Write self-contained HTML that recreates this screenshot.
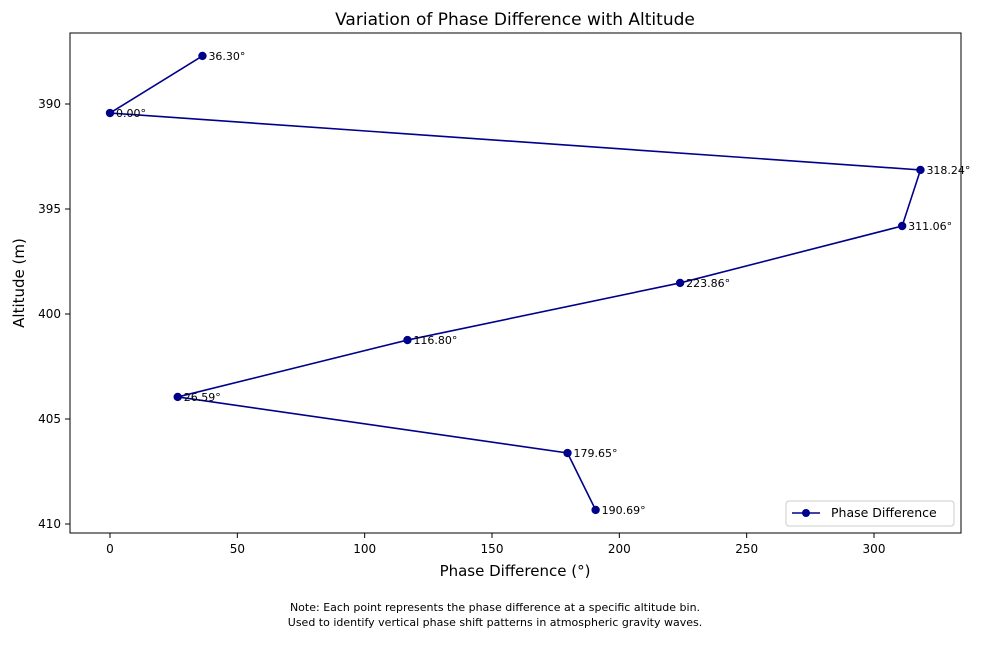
<!DOCTYPE html>
<html><head><meta charset="utf-8"><style>
body{margin:0;background:#fff;font-family:"Liberation Sans","DejaVu Sans",sans-serif;}
svg text{font-family:"DejaVu Sans","Liberation Sans",sans-serif;}
</style></head><body>
<svg id="chart" width="985" height="640" xmlns="http://www.w3.org/2000/svg">
<rect width="985" height="640" fill="#fff"/>
<text x="515" y="25" font-size="17" text-anchor="middle">Variation of Phase Difference with Altitude</text>
<g id="xticks"></g>
<g id="yticks"></g>
<g id="series"></g>
<rect x="70" y="33" width="891" height="500" fill="none" stroke="#000" stroke-width="1"/>
<text x="515" y="576" font-size="15" text-anchor="middle">Phase Difference (°)</text>
<text x="24" y="283" font-size="15" text-anchor="middle" transform="rotate(-90 24 283)">Altitude (m)</text>
<g>
<rect x="786" y="501" width="168" height="25" rx="3" fill="#fff" stroke="#ccc"/>
<line x1="792" y1="513" x2="820" y2="513" stroke="#00008b" stroke-width="1.5"/>
<circle cx="806" cy="513" r="4" fill="#00008b"/>
<text x="831" y="517" font-size="12.5">Phase Difference</text>
</g>
<text x="495" y="611" font-size="11" text-anchor="middle">Note: Each point represents the phase difference at a specific altitude bin.</text>
<text x="495" y="626" font-size="11" text-anchor="middle">Used to identify vertical phase shift patterns in atmospheric gravity waves.</text>
</svg>
<script>
const altitudes=[387.71,390.43,393.14,395.81,398.52,401.24,403.95,406.62,409.33];
const phases=[36.30,0.00,318.24,311.06,223.86,116.80,26.59,179.65,190.69];
const xTicks=[0,50,100,150,200,250,300];
const yTicks=[390,395,400,405,410];
const NS="http://www.w3.org/2000/svg";
function xs(v){return 110+v*(764/300);}
function ys(v){return 104+(v-390)*21;}
function mk(t,a,p){const e=document.createElementNS(NS,t);for(const k in a)e.setAttribute(k,a[k]);p.appendChild(e);return e;}
const gx=document.getElementById('xticks'),gy=document.getElementById('yticks'),gs=document.getElementById('series');
xTicks.forEach(v=>{
 const l=mk('line',{x1:xs(v),x2:xs(v),y1:533,y2:538,stroke:'#000'},gx);
 
 
 const t=mk('text',{x:xs(v),y:553,'font-size':12,'text-anchor':'middle'},gx);t.textContent=v;
 
 
});
yTicks.forEach(v=>{
 const l=mk('line',{x1:65,x2:70,y1:ys(v),y2:ys(v),stroke:'#000'},gy);
 
 
 const t=mk('text',{x:61,y:ys(v)+4,'font-size':12,'text-anchor':'end'},gy);t.textContent=v;
 
 
});
const pts=phases.map((p,i)=>xs(p)+','+ys(altitudes[i])).join(' ');
const pl=mk('polyline',{points:pts,fill:'none',stroke:'#00008b','stroke-width':1.6},gs);


phases.forEach((p,i)=>{
 const c=mk('circle',{cx:xs(p),cy:ys(altitudes[i]),r:4.2,fill:'#00008b'},gs);
 
 
 const t=mk('text',{x:xs(p)+6,y:ys(altitudes[i])+4,'font-size':11},gs);t.textContent=p.toFixed(2)+'°';
 
 
});
</script>
</body></html>
